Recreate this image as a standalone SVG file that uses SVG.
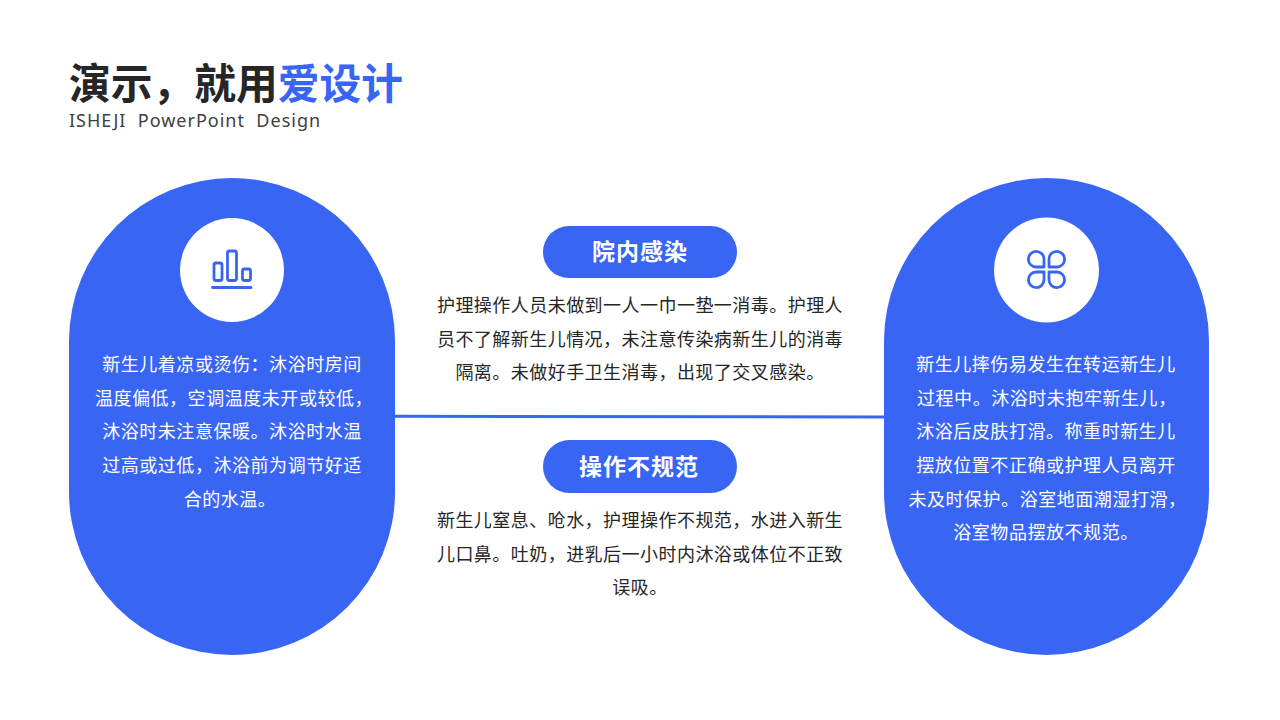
<svg xmlns="http://www.w3.org/2000/svg" width="1280" height="720" viewBox="0 0 1280 720">
<style>
text{font-family:"Noto Sans CJK SC","Noto Sans",sans-serif}
.pill{fill:#3965f5}
.w{fill:#fff;font-size:18px;letter-spacing:0.55px}
.d{fill:#262626;font-size:18px;letter-spacing:0.46px}
.m{text-anchor:middle}
.h{fill:#fff;font-size:23px;font-weight:700;text-anchor:middle;letter-spacing:1px}
.ic{fill:none;stroke:#3965f5;stroke-width:2.8;stroke-linejoin:round;stroke-linecap:round}
</style>
<rect width="1280" height="720" fill="#fff"/>
<g id="title">
<text x="69" y="99" font-size="41.75" font-weight="700" fill="#262626">演示，就用<tspan fill="#3965f5">爱设计</tspan></text>
<text x="69" y="127" font-size="18" fill="#404040" style="font-family:'Noto Sans',sans-serif;letter-spacing:1px" xml:space="preserve">ISHEJI  PowerPoint  Design</text>
</g>
<g id="connectors"><line x1="395" y1="416.300" x2="885" y2="416.900" stroke="#3965f5" stroke-width="3"/></g>
<g id="node-left">
<rect class="pill" x="69" y="178" width="326" height="477" rx="163" ry="163"/>
<circle cx="232" cy="270" r="52" fill="#fff"/>
<g class="ic"><rect x="214" y="263" width="8" height="17.500" rx="2"/><rect x="227.500" y="251" width="9" height="29.500" rx="2"/><rect x="242.500" y="269" width="8" height="11.500" rx="2"/><line x1="212.500" y1="287.500" x2="251" y2="287.500"/></g>
<text class="w m" x="232" y="371">新生儿着凉或烫伤：沐浴时房间</text>
<text class="w m" x="234" y="405">温度偏低，空调温度未开或较低，</text>
<text class="w m" x="232" y="438">沐浴时未注意保暖。沐浴时水温</text>
<text class="w m" x="232" y="472">过高或过低，沐浴前为调节好适</text>
<text class="w m" x="230" y="506">合的水温。</text>
</g>
<g id="node-right">
<rect class="pill" x="884" y="178" width="325" height="477" rx="162.500" ry="163"/>
<circle cx="1046.500" cy="270" r="52.500" fill="#fff"/>
<g class="ic"><path d="M1044 267H1036a7.800 7.800 0 1 1 8-8Z"/><path d="M1049 267h8a7.800 7.800 0 1 0-8-8Z"/><path d="M1044 272H1036a7.800 7.800 0 1 0 8 8Z"/><path d="M1049 272h8a7.800 7.800 0 1 1-8 8Z"/></g>
<text class="w m" x="1046" y="371">新生儿摔伤易发生在转运新生儿</text>
<text class="w" x="917" y="405">过程中。沐浴时未抱牢新生儿，</text>
<text class="w m" x="1046" y="438">沐浴后皮肤打滑。称重时新生儿</text>
<text class="w m" x="1046" y="472">摆放位置不正确或护理人员离开</text>
<text class="w m" x="1047.500" y="506">未及时保护。浴室地面潮湿打滑，</text>
<text class="w m" x="1046" y="539">浴室物品摆放不规范。</text>
</g>
<g id="node-infection">
<rect class="pill" x="543" y="226" width="194" height="52" rx="26"/>
<text class="h" x="640" y="260">院内感染</text>
<text class="d m" x="640" y="312">护理操作人员未做到一人一巾一垫一消毒。护理人</text>
<text class="d m" x="640" y="346">员不了解新生儿情况，未注意传染病新生儿的消毒</text>
<text class="d m" x="640" y="379">隔离。未做好手卫生消毒，出现了交叉感染。</text>
</g>
<g id="node-operation">
<rect class="pill" x="543" y="440" width="194" height="53" rx="26.500"/>
<text class="h" x="639" y="475">操作不规范</text>
<text class="d m" x="640" y="527">新生儿窒息、呛水，护理操作不规范，水进入新生</text>
<text class="d m" x="640" y="561">儿口鼻。吐奶，进乳后一小时内沐浴或体位不正致</text>
<text class="d m" x="640" y="594">误吸。</text>
</g>
</svg>
